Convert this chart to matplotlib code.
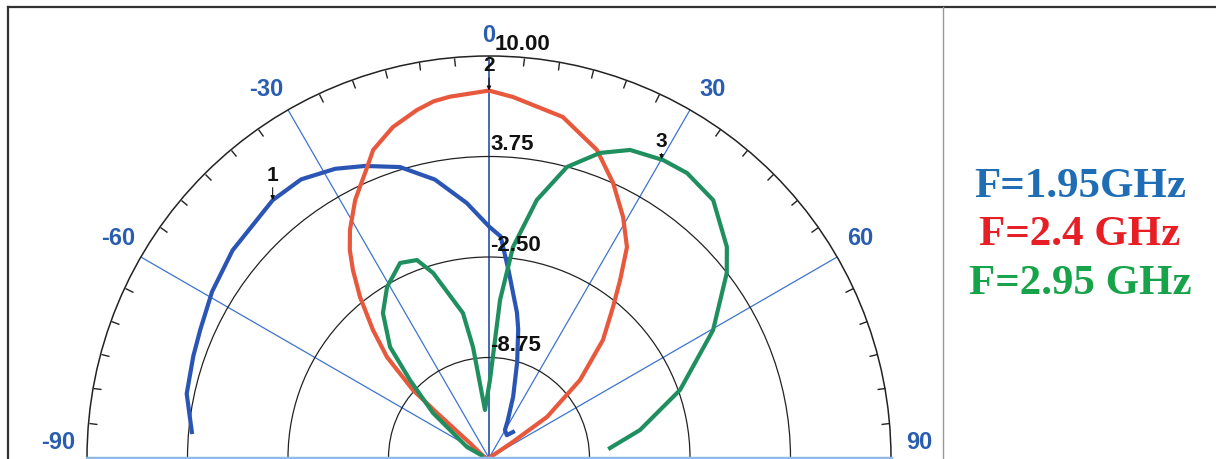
import numpy as np
import matplotlib.pyplot as plt
from matplotlib.lines import Line2D

# 方向图数据 (角度: 度, 增益: dB)
theta_195 = [-85, -78, -71, -66, -59, -51, -40, -34, -28, -23, -17, -11, -5, 0, 3, 6,
             10.9, 12.8, 16.4, 21.5, 26.6, 29.7, 38, 42.7]
gain_195 = [3.55, 4.22, 4.45, 4.65, 5.09, 5.52, 5.93, 5.9, 5.37, 4.73, 3.92, 2.64, 0.92,
            -0.6, -1.2, -3.3, -5.8, -6.8, -8.8, -10.9, -12.4, -13.0, -13.2, -12.8]

theta_24 = [-70, -52, -49.1, -48.2, -45.3, -42.2, -38.7, -35.9, -33.8, -31.4, -27.4,
            -22.7, -20.6, -16.2, -11.7, -8.8, -6.2, 0, 3.8, 12.2, 19.3, 24.3, 29.1,
            33.2, 36.4, 39.4, 44, 49.4, 54.7, 56, 58]
gain_24 = [-14.6, -13.5, -10.72, -8.66, -6.08, -4.26, -2.17, -0.57, 0.56, 1.6, 3.08,
           4.62, 5.47, 6.43, 7.1, 7.45, 7.6, 7.85, 7.5, 6.7, 5.3, 3.76, 2.15,
           0.67, -1.26, -2.85, -4.8, -7.54, -10.58, -13.2, -14.9]

theta_295 = [-70, -63.4, -51.2, -45.4, -41.7, -36.2, -30.8, -24.5, -20, -16.8, -10.2,
             -8.2, -4.8, 0.7, 4, 6.5, 10.5, 15, 20, 24.6, 30.3, 34.8, 41, 48.4,
             52.1, 60.3, 70.4, 79.5, 85.3]
gain_295 = [-14.5, -13.47, -10.53, -8.1, -5.75, -3.83, -2.62, -1.67, -1.9, -2.98, -5.84,
            -8.03, -12.0, -10.15, -5.15, -1.79, 1.32, 3.74, 5.19, 6.07, 6.46, 6.58, 6.25, 4.78,
            3.74, 1.04, -2.39, -5.45, -7.45]

ring_values = [-8.75, -2.50, 3.75]
ring_labels = ['-8.75', '-2.50', '3.75']
angle_ticks = [-90, -60, -30, 0, 30, 60, 90]
legend_text = ['F=1.95GHz', 'F=2.4 GHz', 'F=2.95 GHz']
legend_color = ['#1f6db5', '#e81e25', '#17a34a']

W, H = 1216, 459
fig = plt.figure(figsize=(W / 100, H / 100), dpi=100)
fig.patch.set_facecolor('white')

# 半圆放在正方形的轴框中间: 圆心 (489, 458), 半径 402 px
R = 402
ax = fig.add_axes([(489 - R) / W, (H - 659) / H, 2 * R / W, 2 * R / H], projection='polar')
ax.set_theta_zero_location('N')
ax.set_theta_direction(-1)
ax.set_thetamin(-90)
ax.set_thetamax(90)
ax.set_rlim(-15, 10)

# 网格
ax.set_xticks(np.deg2rad([-60, -30, 0, 30, 60]))
ax.set_xticklabels([])
ax.set_xticks(np.deg2rad(np.arange(-85, 90, 5)), minor=True)
ax.tick_params(axis='x', which='major', length=0)
ax.tick_params(axis='x', which='minor', top=True, bottom=False, direction='in',
               length=6, width=1, color='#222222')
ax.xaxis.grid(True, color='#3d74d0', lw=0.9)
for g, a in zip(ax.xaxis.get_gridlines(), [-60, -30, 0, 30, 60]):
    if a == 0:
        g.set_color('#2550a8')
        g.set_linewidth(1.2)

ax.set_yticks(ring_values)
ax.set_yticklabels([])
ax.yaxis.grid(True, color='#222222', lw=0.9)
ax.tick_params(axis='y', length=0)

ax.spines['polar'].set_color('#222222')
ax.spines['polar'].set_linewidth(1.1)
for s in ['start', 'end']:
    ax.spines[s].set_color('#8fbbe6')
    ax.spines[s].set_linewidth(2.5)
ax.spines['inner'].set_visible(False)

# 曲线
ax.plot(np.deg2rad(theta_195), gain_195, color='#2b55b5', lw=3, solid_joinstyle='round')
ax.plot(np.deg2rad(theta_24), gain_24, color='#e8583c', lw=3, solid_joinstyle='round')
ax.plot(np.deg2rad(theta_295), gain_295, color='#1f8f5f', lw=3, solid_joinstyle='round')

# 刻度文字
ring_font = dict(fontsize=16, fontweight='bold', family='Liberation Sans')
ax.annotate('10.00', xy=(0, 10), xytext=(4, 1), textcoords='offset points',
            ha='left', va='bottom', color='#111111', **ring_font)
for v, t in zip(ring_values, ring_labels):
    ax.annotate(t, xy=(0, v), xytext=(1, 1), textcoords='offset points',
                ha='left', va='bottom', color='#111111', **ring_font)

ang_font = dict(fontsize=17, fontweight='bold', family='Liberation Sans')
ang_pos = {0: 0, 30: 31.2, 60: 59.4, 90: 88}
for a in angle_ticks:
    r = 11.3 if a == 0 else 11.8
    t = np.deg2rad(np.sign(a) * ang_pos[abs(a)])
    ax.text(t, r, str(a), color='#2a5db0', ha='center', va='center',
            clip_on=False, **ang_font)

# 标记 1 2 3
mk = dict(textcoords='offset points', ha='center', va='bottom', color='#111111',
          fontsize=15, fontweight='bold', family='Liberation Sans',
          arrowprops=dict(arrowstyle='-|>', color='#111111', lw=0.8,
                          shrinkA=0, shrinkB=0, mutation_scale=6))
ax.annotate('1', xy=(np.deg2rad(-40), 5.93), xytext=(0, 11), **mk)
ax.annotate('2', xy=(0, 7.85), xytext=(0, 11), **mk)
ax.annotate('3', xy=(np.deg2rad(30), 6.46), xytext=(0, 6), **mk)

# 图例
for i, (t, c) in enumerate(zip(legend_text, legend_color)):
    fig.text(1080 / W, 1 - (187 + 48.5 * i) / H, t, color=c, ha='center', va='center',
             fontsize=31, fontweight='bold', family='Liberation Serif')

# 边框
fig.add_artist(Line2D([8 / W, 1], [1 - 6.5 / H] * 2, color='#333333', lw=1.6))
fig.add_artist(Line2D([8 / W] * 2, [0, 1 - 6.5 / H], color='#333333', lw=1.6))
fig.add_artist(Line2D([943 / W] * 2, [0, 1 - 6.5 / H], color='#999999', lw=1))

plt.savefig('out.png', dpi=100)
